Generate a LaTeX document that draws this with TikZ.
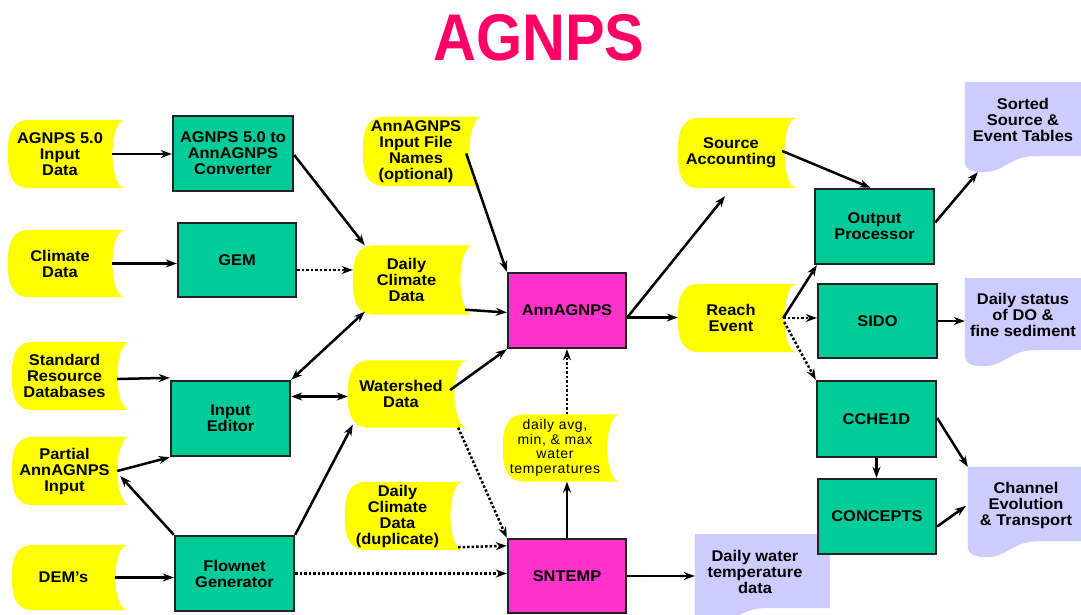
\documentclass[tikz,border=0pt]{standalone}
\usepackage{fontspec}
\setmainfont{Liberation Sans}[FakeStretch=1.06]
\newfontfamily\tempfont{Liberation Sans}[LetterSpace=5]
\newfontfamily\titlefont{Liberation Sans}
\usetikzlibrary{arrows.meta,calc,backgrounds}
\definecolor{ycol}{HTML}{FFFF00}
\definecolor{gcol}{HTML}{00CC99}
\definecolor{mcol}{HTML}{FF33CC}
\definecolor{lcol}{HTML}{CCCCFF}
\definecolor{tcol}{HTML}{FF0066}
\definecolor{bcol}{HTML}{222222}
\newcommand\mybf{\bfseries\fontsize{15.5}{16}\selectfont}
\tikzset{
  box/.style={draw=bcol, line width=2.4pt, minimum width=119pt, minimum height=75pt, inner sep=0pt, align=center, font=\mybf},
  gbox/.style={box, fill=gcol},
  mbox/.style={box, fill=mcol},
  ynode/.style={minimum width=105pt, minimum height=68pt, inner sep=0pt, align=center, font=\mybf},
  lnode/.style={minimum width=116pt, minimum height=76pt, inner sep=0pt, align=center, font=\mybf},
  tip/.tip={Stealth[length=11pt,width=8pt,inset=3.5pt]},
  arr/.style={line width=2.5pt, -tip},
  dotarr/.style={arr, dash pattern=on 2.5pt off 2pt},
  darr/.style={line width=2.5pt, tip-tip}
}
\begin{document}
\begin{tikzpicture}[x=1pt,y=-1pt]
\useasboundingbox (0,0) rectangle (1081,615);

% title
\node[font=\titlefont\bfseries\fontsize{66}{66}\selectfont, text=tcol] (title) at (539,38) {\scalebox{0.9}[1]{AGNPS}};

% yellow data nodes
\node[ynode, minimum width=104pt] (yA) at (60,154) {AGNPS 5.0\\Input\\Data};
\node[ynode, minimum width=104pt, minimum height=67pt] (yClim) at (60,263.5) {Climate\\Data};
\node[ynode] (yStd) at (64.5,376) {Standard\\Resource\\Databases};
\node[ynode] (yPart) at (64.5,471) {Partial\\AnnAGNPS\\Input};
\node[ynode, minimum width=103pt, minimum height=65pt] (yDEM) at (63.5,577.5) {DEM’s};
\node[ynode, minimum width=106pt, minimum height=69pt] (yNames) at (416,151.5) {AnnAGNPS\\Input File\\Names\\(optional)};
\node[ynode, minimum width=107pt, minimum height=69pt] (yDaily) at (406.5,280) {Daily\\Climate\\Data};
\node[ynode, minimum width=106pt, minimum height=67pt] (yWs) at (401,394) {Watershed\\Data};
\node[ynode] (yDup) at (397.5,516) {Daily\\Climate\\Data\\(duplicate)};
\node[ynode, minimum width=104pt, minimum height=67pt, font=\tempfont\fontsize{14}{14.5}\selectfont] (yTemp) at (555,448) {daily avg,\\min, \& max\\water\\temperatures};
\node[ynode, minimum width=106pt, minimum height=70pt] (ySrc) at (731,153) {Source\\Accounting};
\node[ynode, minimum width=106pt] (yReach) at (731,318) {Reach\\Event};

% green and magenta boxes
\node[gbox, minimum width=120pt] (gConv) at (233,153.5) {AGNPS 5.0 to\\AnnAGNPS\\Converter};
\node[gbox, minimum width=118pt, minimum height=74pt] (gGEM) at (237,260) {GEM};
\node[gbox] (gEd) at (230.5,418.5) {Input\\Editor};
\node[gbox] (gFlow) at (234.5,573.5) {Flownet\\Generator};
\node[gbox] (gOut) at (874.5,226.5) {Output\\Processor};
\node[gbox, minimum height=74pt] (gSIDO) at (877.5,321) {SIDO};
\node[gbox, minimum height=76pt] (gCC) at (876.5,419) {CCHE1D};
\node[gbox, minimum width=118pt] (gCon) at (877,516.5) {CONCEPTS};
\node[mbox, minimum width=118pt] (mAnn) at (567,310.5) {AnnAGNPS};
\node[mbox, minimum width=118pt, minimum height=74pt] (mSN) at (567,576) {SNTEMP};

% lavender outputs
\node[lnode] (lSort) at (1023,120) {Sorted\\Source \&\\Event Tables};
\node[lnode, minimum height=74pt] (lDO) at (1023,315) {Daily status\\of DO \&\\fine sediment};
\node[lnode] (lChan) at (1026,505) {Channel\\Evolution\\\& Transport};
\node[lnode, minimum width=120pt] (lWT) at (755,572) {Daily water\\temperature\\data};

% shapes behind the texts
\begin{pgfonlayer}{background}
\fill[white] (0,0) rectangle (1081,615);
\foreach \n in {yA,yClim,yStd,yPart,yDEM,yNames,yDaily,yWs,yDup,yTemp,ySrc,yReach}{
  \fill[ycol] ($(\n.north west)+(22,0)$) -- ($(\n.north east)+(13,0)$)
    .. controls ($(\n.north east)+(-4,0)$) and ($(\n.south east)+(-4,0)$) .. ($(\n.south east)+(13,0)$)
    -- ($(\n.south west)+(22,0)$)
    .. controls ($(\n.south west)+(5,0)$) and ($(\n.south west)+(0,-12)$) .. ($(\n.west)+(0,0)$)
    .. controls ($(\n.north west)+(0,12)$) and ($(\n.north west)+(5,0)$) .. ($(\n.north west)+(22,0)$) -- cycle;
}
\foreach \n in {lSort,lDO,lChan,lWT}{
  \fill[lcol] (\n.north west) -- ($(\n.north east)+(15,0)$) -- ($(\n.south east)+(15,-2)$)
    -- ($(\n.south west)+(70,-2)$)
    .. controls ($(\n.south west)+(45,-2)$) and ($(\n.south west)+(40,14)$) .. ($(\n.south west)+(18,14)$)
    .. controls ($(\n.south west)+(6,14)$) and ($(\n.south west)+(0,10)$) .. ($(\n.south west)+(0,4)$) -- cycle;
}
\end{pgfonlayer}

% connectors
\draw[arr] (yA.east) -- (yA.east -| gConv.west);
\draw[arr] (yClim.east) -- (yClim.east -| gGEM.west);
\draw[dotarr] ($(gGEM.east)+(0,10)$) -- ($(yDaily.west)+(0,-10)$);
\draw[arr] ($(gConv.east)+(0,1.5)$) -- ($(yDaily.north west)+(12,0)$);
\draw[darr] (gEd.north east) -- ($(yDaily.south west)+(12,-3)$);
\draw[darr] ($(gEd.east)+(0,-22)$) -- ($(yWs.west)+(0,2.5)$);
\draw[arr] ($(yStd.east)+(0,3)$) -- ($(gEd.north west)+(0,-2)$);
\draw[arr] (yPart.east) -- (gEd.south west);
\draw[arr] (gFlow.north west) -- ($(yPart.east)+(3,5)$);
\draw[arr] (gFlow.north east) -- ($(yWs.south west)+(5,-3)$);
\draw[arr] (yDEM.east) -- (yDEM.east -| gFlow.west);
\draw[dotarr] (gFlow.east) -- (gFlow.east -| mSN.west);
\draw[dotarr] ($(yDup.south east)+(8,-3)$) -- ($(mSN.north west)+(0,8)$);
\draw[dotarr] ($(yWs.south east)+(4,0)$) -- (mSN.north west);
\draw[arr] (mSN.north) -- (mSN.north |- yTemp.south);
\draw[dotarr] (mAnn.south |- yTemp.north) -- (mAnn.south);
\draw[arr] (mSN.east) -- (mSN.east -| lWT.west);
\draw[arr] ($(yNames.east)+(-3,2)$) -- (mAnn.north west);
\draw[arr] ($(yDaily.south east)+(5,-5)$) -- ($(mAnn.west)+(0,2)$);
\draw[arr] ($(yWs.east)+(-4,-4)$) -- (mAnn.south west);
\coordinate (ap) at ($(mAnn.east)+(0,7)$);
\draw[arr] (ap) -- (ap -| yReach.west);
\draw[arr] (ap) -- ($(ySrc.south)+(-6,8)$);
\draw[arr] ($(ySrc.east)+(-2,-2)$) -- ($(gOut.north)+(-4,0)$);
\coordinate (rp) at ($(yReach.east)+(-1,0)$);
\draw[arr] (rp) -- ($(gOut.south west)+(3,0)$);
\draw[dotarr] (rp) -- (rp -| gSIDO.west);
\draw[dotarr] ($(yReach.east)+(0,4)$) -- (gCC.north west);
\draw[arr] ($(gOut.east)+(0,-4)$) -- ($(lSort.south west)+(13,14)$);
\draw[arr] (gSIDO.east) -- (gSIDO.east -| lDO.west);
\draw[arr] ($(gCC.east)+(0,-1)$) -- (lChan.north west);
\draw[arr] (gCC.south) -- (gCC.south |- gCon.north);
\draw[arr] ($(gCon.east)+(0,10)$) -- ($(lChan.west)+(-2,1)$);
\end{tikzpicture}
\end{document}
